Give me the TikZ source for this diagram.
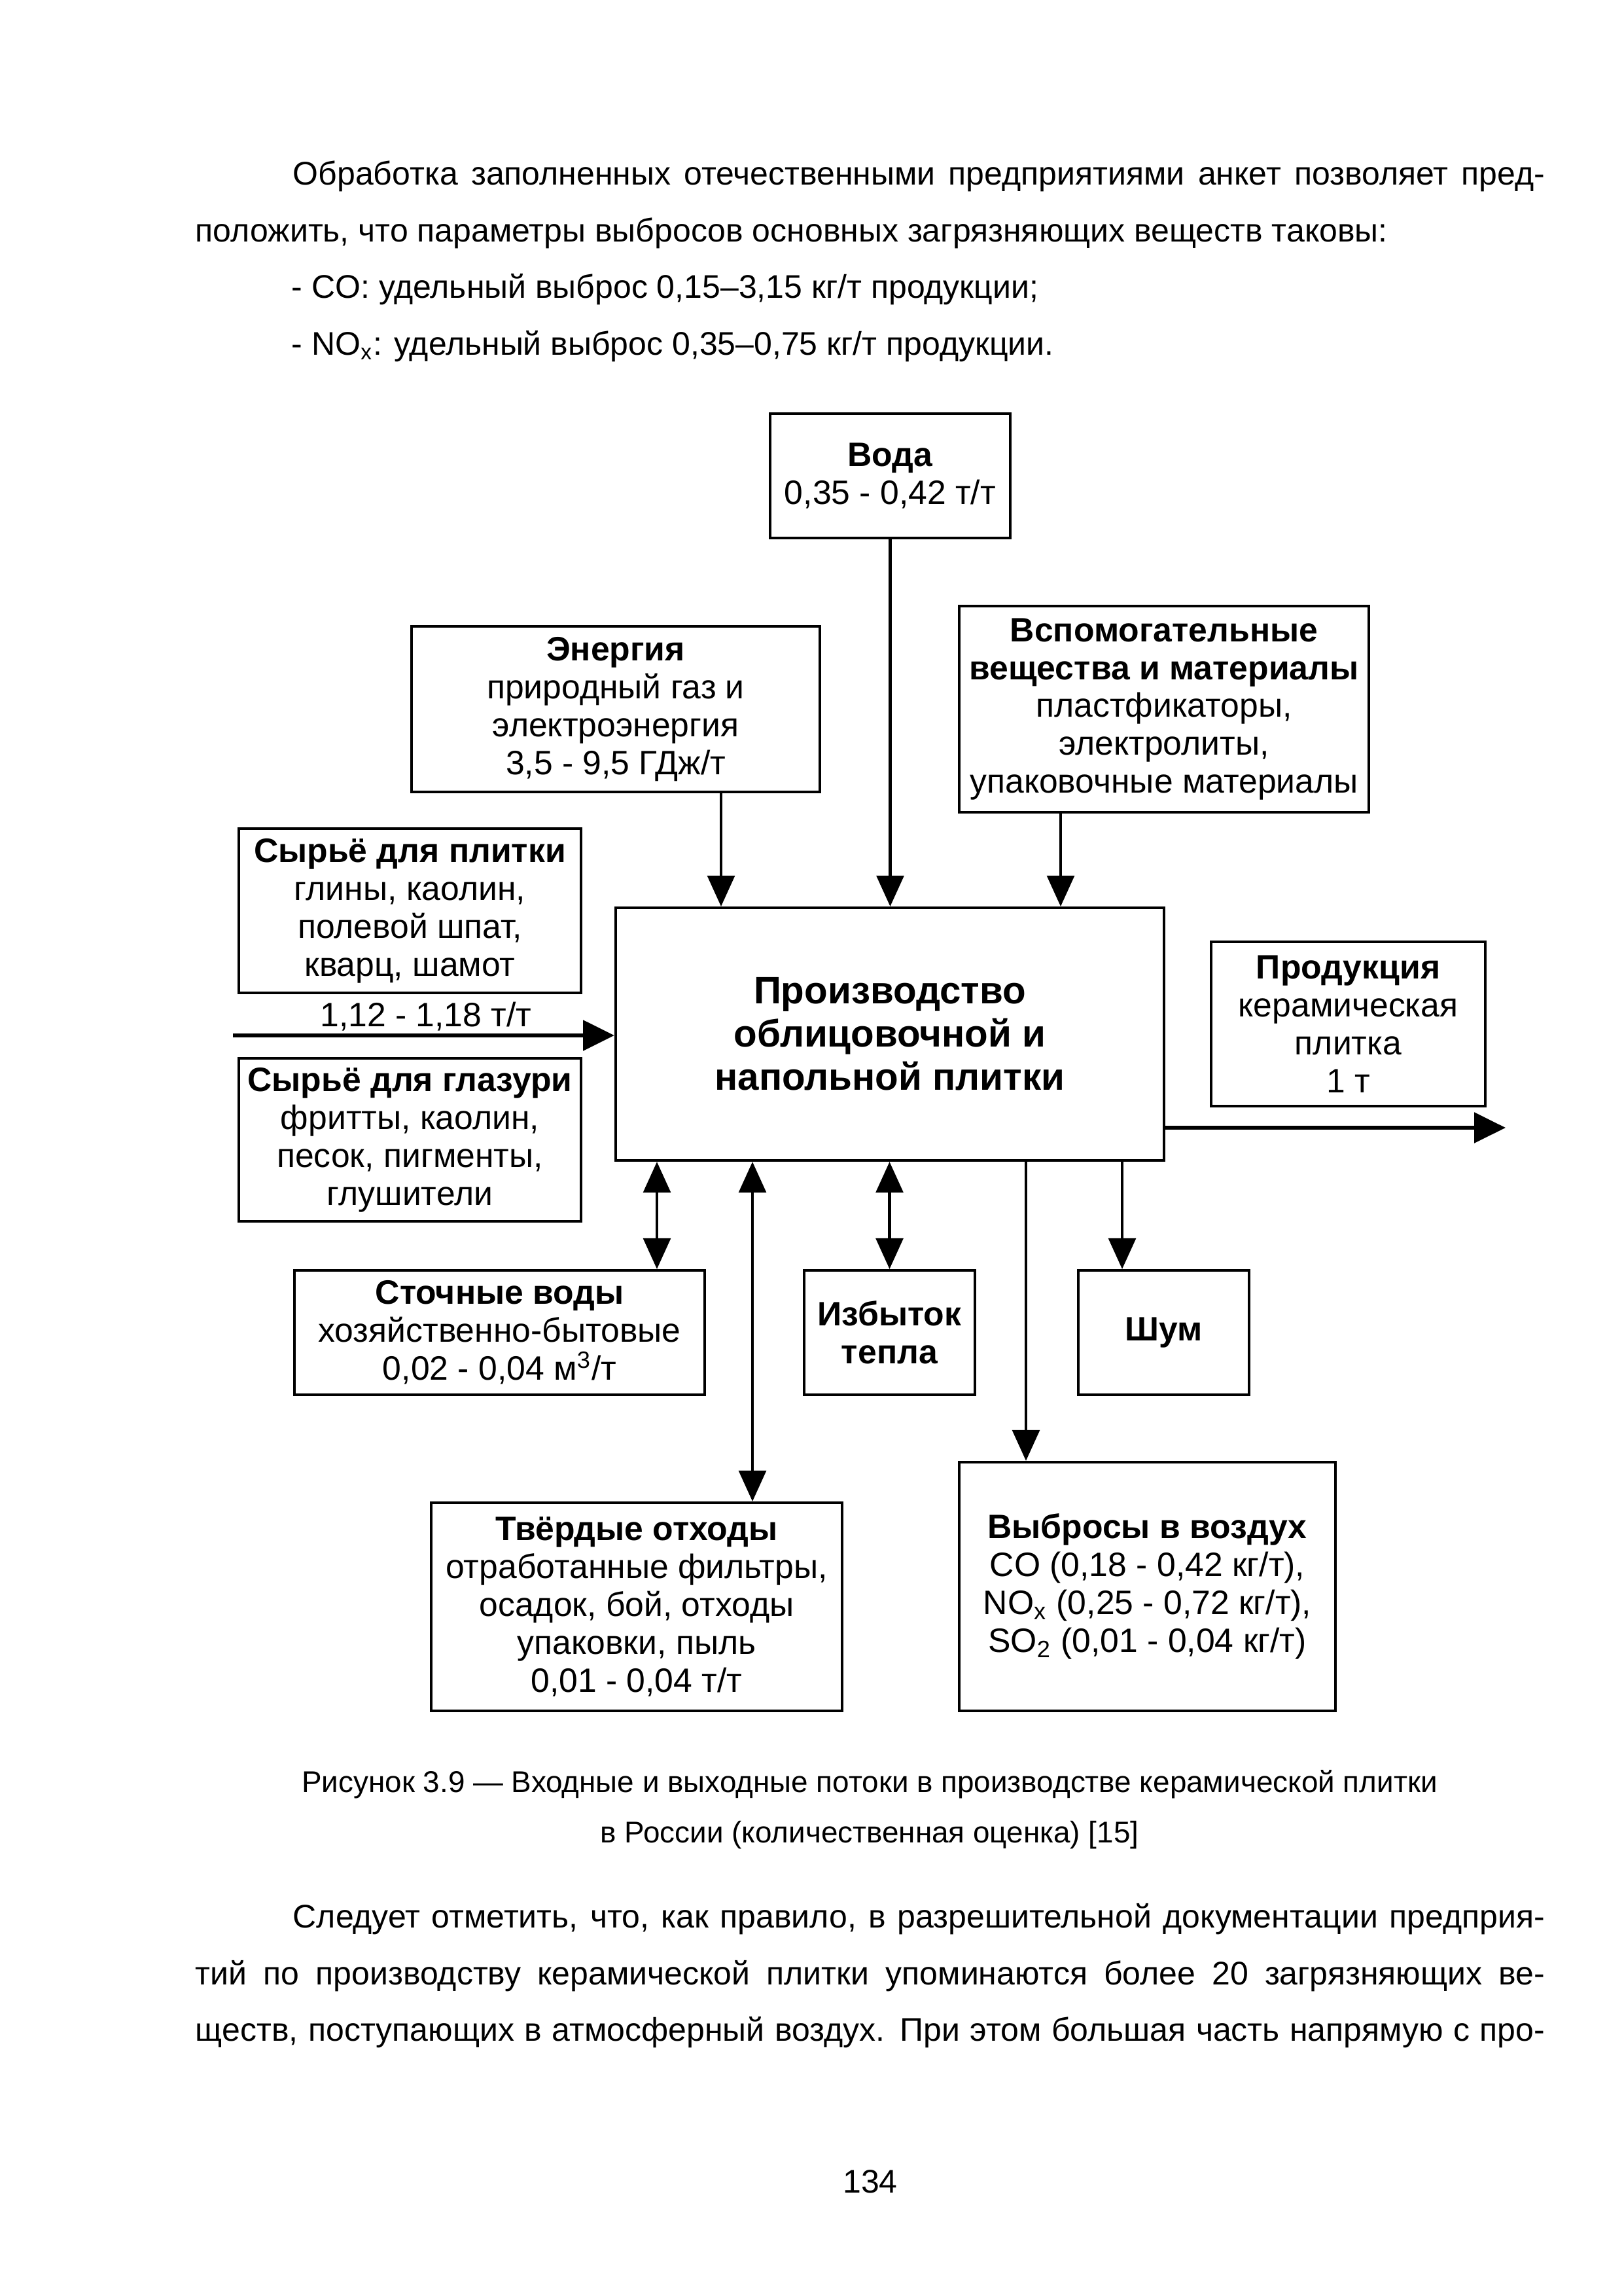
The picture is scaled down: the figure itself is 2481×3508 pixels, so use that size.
\documentclass[tikz,border=0pt]{standalone}
\usepackage{fontspec}
\setmainfont{Liberation Sans}
\usetikzlibrary{arrows.meta}
\newlength\pxu \setlength\pxu{0.24pt}
\newcommand\bodyfnt{\fontsize{12pt}{20.7pt}\selectfont}
\newcommand\capfnt{\fontsize{11pt}{18.7pt}\selectfont}
\newcommand\boxfnt{\fontsize{12.4pt}{13.9pt}\selectfont}
\newcommand\mainfnt{\fontsize{14pt}{15.8pt}\selectfont\bfseries}
\begin{document}
\begin{tikzpicture}[x=\pxu, y=-\pxu,
  box/.style={draw, line width=1pt, inner sep=0pt, align=center, font=\boxfnt},
  txt/.style={inner sep=0pt, font=\bodyfnt},
  arr/.style={line width=1pt, -{Triangle[length=11.3pt,width=10pt]}},
  darr/.style={line width=1pt, {Triangle[length=11.3pt,width=10pt]}-{Triangle[length=11.3pt,width=10pt]}},
  tarr/.style={line width=1.45pt, -{Triangle[length=11.5pt,width=11pt]}}]
\fill[white] (0,0) rectangle (2481,3508);
\useasboundingbox (0,0) rectangle (2481,3508);

% body text
\node[txt, anchor=base west] (t1) at (447,283) {\makebox[1913\pxu][s]{Обработка заполненных отечественными предприятиями анкет позволяет пред-}};
\node[txt, anchor=base west] (t2) at (298,369.5) {положить, что параметры выбросов основных загрязняющих веществ таковы:};
\node[txt, anchor=base west] (t3) at (445,456) {- CO: удельный выброс 0,15–3,15 кг/т продукции;};
\node[txt, anchor=base west] (t4) at (445,542.5) {- NO\textsubscript{x}: удельный выброс 0,35–0,75 кг/т продукции.};

% boxes
\node[box, minimum width=367\pxu, minimum height=190\pxu] (voda) at (1360.5,727) {\textbf{Вода}\\0,35 - 0,42 т/т};
\node[box, minimum width=624\pxu, minimum height=253\pxu] (energy) at (941,1083.5) {\textbf{Энергия}\\природный газ и\\электроэнергия\\3,5 - 9,5 ГДж/т};
\node[box, minimum width=626\pxu, minimum height=315\pxu] (aux) at (1779,1083.5) {\textbf{Вспомогательные}\\\textbf{вещества и материалы}\\пластфикаторы,\\электролиты,\\упаковочные материалы};
\node[box, minimum width=523\pxu, minimum height=251\pxu] (raw1) at (626.5,1391.5) {\textbf{Сырьё для плитки}\\глины, каолин,\\полевой шпат,\\кварц, шамот};
\node[box, minimum width=523\pxu, minimum height=249\pxu] (raw2) at (626.5,1741.5) {\textbf{Сырьё для глазури}\\фритты, каолин,\\песок, пигменты,\\глушители};
\node[box, minimum width=838\pxu, minimum height=386\pxu, font=\mainfnt] (prod) at (1360,1580) {Производство\\облицовочной и\\напольной плитки};
\node[box, minimum width=419\pxu, minimum height=251\pxu] (product) at (2060.5,1564.5) {\textbf{Продукция}\\керамическая\\плитка\\1 т};
\node[box, minimum width=627\pxu, minimum height=190\pxu] (ww) at (763.5,2036) {\textbf{Сточные воды}\\хозяйственно-бытовые\\0,02 - 0,04 м\textsuperscript{3}/т};
\node[box, minimum width=261\pxu, minimum height=190\pxu] (heat) at (1359.5,2036) {\textbf{Избыток}\\\textbf{тепла}};
\node[box, minimum width=261\pxu, minimum height=190\pxu] (noise) at (1778.5,2036) {\textbf{Шум}};
\node[box, minimum width=628\pxu, minimum height=318\pxu] (solid) at (973,2455) {\textbf{Твёрдые отходы}\\отработанные фильтры,\\осадок, бой, отходы\\упаковки, пыль\\0,01 - 0,04 т/т};
\node[box, minimum width=575\pxu, minimum height=380\pxu] (air) at (1753.5,2424) {\textbf{Выбросы в воздух}\\CO (0,18 - 0,42 кг/т),\\NO\textsubscript{x} (0,25 - 0,72 кг/т),\\SO\textsubscript{2} (0,01 - 0,04 кг/т)};

% input arrows from above
\draw[arr] (voda.south) -- (voda.south |- prod.north);
\draw[arr] (1102,0 |- energy.south) -- (1102,0 |- prod.north);
\draw[arr] (1621,0 |- aux.south) -- (1621,0 |- prod.north);

% raw material input
\coordinate (inl) at (356,1582);
\draw[tarr] (inl) -- (inl -| prod.west);
\node[inner sep=0pt, font=\boxfnt, anchor=base] (inlab) at (651,1568) {1,12 - 1,18 т/т};

% product output
\coordinate (outr) at (2301,1723);
\draw[tarr] (outr -| prod.east) -- (outr);

% outputs below
\draw[darr] (1004,0 |- prod.south) -- (1004,0 |- ww.north);
\draw[darr] (1150,0 |- prod.south) -- (1150,0 |- solid.north);
\draw[darr] (heat.north |- prod.south) -- (heat.north);
\draw[arr] (1568,0 |- prod.south) -- (1568,0 |- air.north);
\draw[arr] (1715,0 |- prod.south) -- (1715,0 |- noise.north);

% caption
\node[inner sep=0pt, font=\capfnt, anchor=base] (cap1) at (1329,2738) {Рисунок 3.9 — Входные и выходные потоки в производстве керамической плитки};
\node[inner sep=0pt, font=\capfnt, anchor=base] (cap2) at (1329,2815) {в России (количественная оценка) [15]};

% following paragraph
\node[txt, anchor=base west] (s1) at (447,2945) {\makebox[1913\pxu][s]{Следует отметить, что, как правило, в разрешительной документации предприя-}};
\node[txt, anchor=base west] (s2) at (298,3032) {\makebox[2062\pxu][s]{тий по производству керамической плитки упоминаются более 20 загрязняющих ве-}};
\node[txt, anchor=base west] (s3) at (298,3118) {\makebox[2062\pxu][s]{ществ, поступающих в атмосферный воздух. При этом большая часть напрямую с про-}};

\node[txt, anchor=base] (pnum) at (1330,3350) {134};
\end{tikzpicture}
\end{document}
